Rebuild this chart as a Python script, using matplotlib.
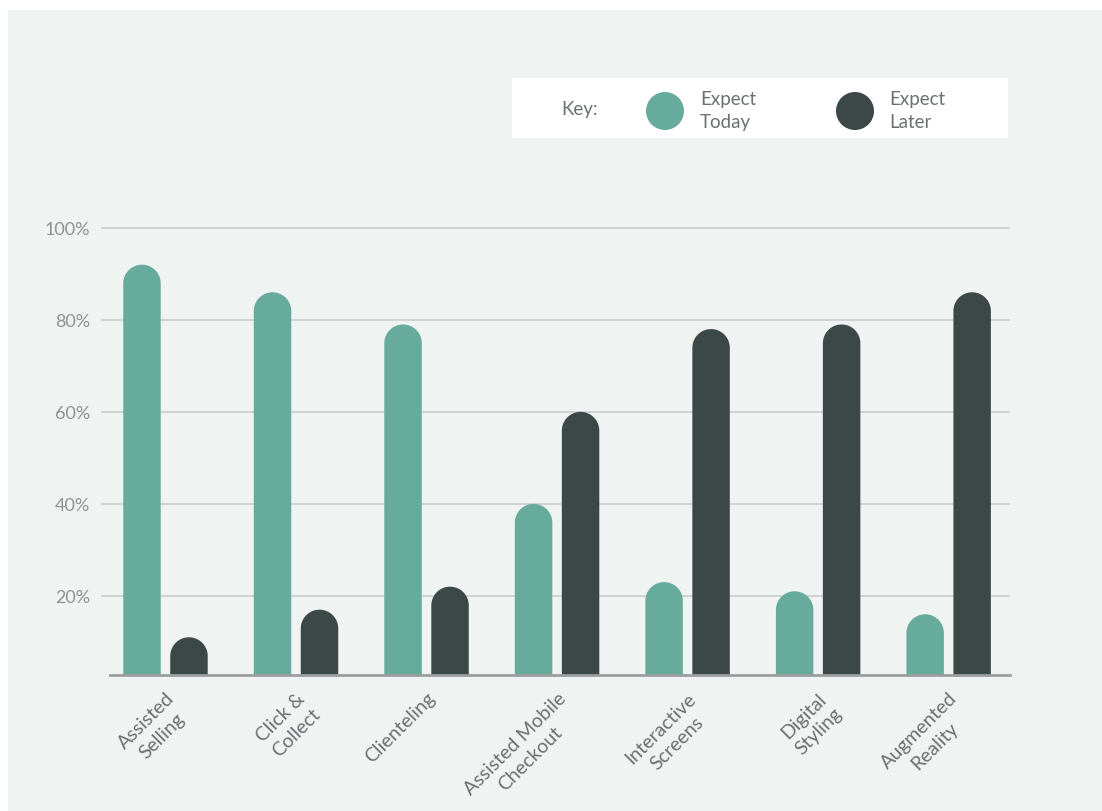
import numpy as np
import matplotlib.pyplot as plt
from matplotlib.patches import Polygon, Rectangle, Circle

plt.rcParams['font.family'] = ['Lato', 'DejaVu Sans']

categories = ['Assisted\nSelling', 'Click &\nCollect', 'Clienteling',
              'Assisted Mobile\nCheckout', 'Interactive\nScreens',
              'Digital\nStyling', 'Augmented\nReality']
expect_today = [92, 86, 79, 40, 23, 21, 16]
expect_later = [11, 17, 22, 60, 78, 79, 86]
y_ticks = [20, 40, 60, 80, 100]
y_labels = ['20%', '40%', '60%', '80%', '100%']

TEAL = '#66ab9c'
DARK = '#3c4747'
PANEL = '#eff3f2'
TEXT = '#6b7172'

W, H = 1102, 812
fig = plt.figure(figsize=(W / 100, H / 100), dpi=100, facecolor='white')

# light panel behind everything
fig.patches.append(Rectangle((8 / W, 0), 1, 1 - 11 / H, transform=fig.transFigure,
                             facecolor=PANEL, edgecolor='none', zorder=-10))

# axes placed in pixels
ymin, ymax = 2.8, 101
px_per_y = 4.6
ax_left, ax_right, ax_bottom = 101, 1010, 676
ax_top = ax_bottom - (ymax - ymin) * px_per_y
ax = fig.add_axes([ax_left / W, 1 - ax_bottom / H, (ax_right - ax_left) / W,
                   (ax_bottom - ax_top) / H])
ax.set_facecolor('none')

x = np.arange(len(categories))
x0, x1 = -0.494, 6.47
ax.set_xlim(x0, x1)
ax.set_ylim(ymin, ymax)

bw = 0.287
off = 0.18
bars_t = ax.bar(x - off, expect_today, bw, color=TEAL)
bars_l = ax.bar(x + off, expect_later, bw, color=DARK)

# replace each plain bar with one that has a semicircular top
px_per_x = (ax_right - ax_left) / (x1 - x0)
rx = bw / 2
ry = rx * px_per_x / px_per_y
theta = np.linspace(np.pi, 0, 40)
for bars, col in [(bars_t, TEAL), (bars_l, DARK)]:
    for r in bars:
        bx, bh = r.get_x(), r.get_height()
        r.remove()
        cx, cy = bx + rx, bh - ry
        arc = np.column_stack([cx + rx * np.cos(theta), cy + ry * np.sin(theta)])
        pts = np.vstack([[bx, -30], arc, [bx + bw, -30]])
        ax.add_patch(Polygon(pts, closed=True, facecolor=col,
                             edgecolor='none', zorder=3))

for s in ax.spines.values():
    s.set_visible(False)
ax.set_yticks(y_ticks, y_labels)
ax.yaxis.grid(True, color='#c9cdcc', linewidth=1.2, zorder=0)
ax.set_axisbelow(True)
ax.tick_params(axis='y', length=0, pad=8, labelsize=13, labelcolor='#8d9293')
ax.axhline(ymin, xmin=(110 - ax_left) / (ax_right - ax_left), xmax=1,
           color='#9a9e9e', linewidth=2, zorder=5, clip_on=False)

ax.set_xticks(x)
ax.set_xticklabels(categories, rotation=45, ha='right', va='top',
                   rotation_mode='anchor', multialignment='center',
                   fontsize=14, color=TEXT, linespacing=1.35)
ax.tick_params(axis='x', length=0, pad=10)

# key box
kx0, ky0, kw, kh = 512, 79, 496, 60
kax = fig.add_axes([kx0 / W, 1 - (ky0 + kh) / H, kw / W, kh / H])
kax.set_xlim(0, kw)
kax.set_ylim(kh, 0)
kax.set_facecolor('white')
kax.set_xticks([])
kax.set_yticks([])
for s in kax.spines.values():
    s.set_visible(False)
kax.text(580 - kx0, 110 - ky0, 'Key:', ha='center', va='center',
         fontsize=13.5, color=TEXT)
kax.add_patch(Circle((665 - kx0, 112 - ky0), 19, facecolor=TEAL, edgecolor='none'))
kax.add_patch(Circle((855 - kx0, 112 - ky0), 19, facecolor=DARK, edgecolor='none'))
kax.text(700 - kx0, 111 - ky0, 'Expect\nToday', ha='left', va='center',
         fontsize=13.5, color=TEXT, linespacing=1.45)
kax.text(889 - kx0, 111 - ky0, 'Expect\nLater', ha='left', va='center',
         fontsize=13.5, color=TEXT, linespacing=1.45)

fig.savefig('out.png', dpi=100, facecolor='white')
